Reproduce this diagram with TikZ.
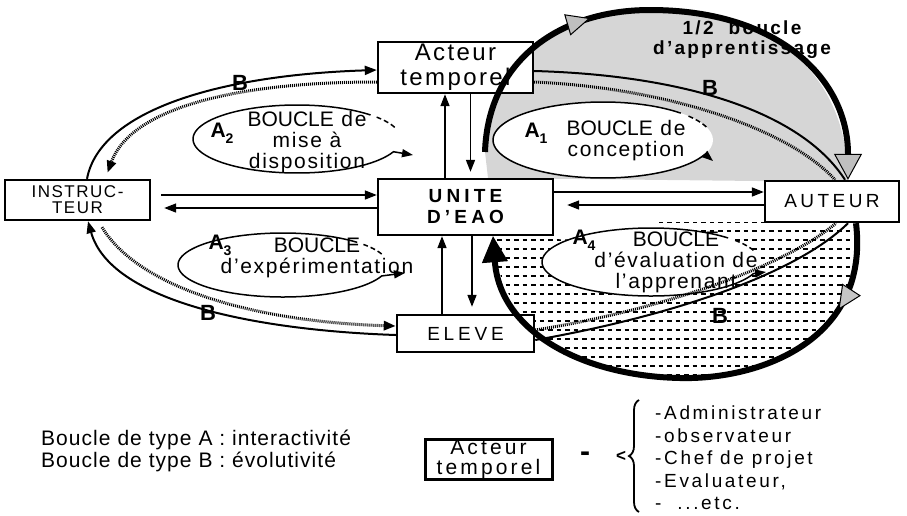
\documentclass[tikz,border=0pt]{standalone}
\usepackage{fontspec}
\setmainfont{Liberation Sans}[LetterSpace=8]
\newfontfamily\tightf{Liberation Sans}
\usetikzlibrary{arrows.meta,decorations.markings,decorations.pathreplacing,calc}
\tikzset{
  box/.style={draw, line width=2.4pt, fill=white, inner sep=0pt, align=center},
  arr/.style={line width=1.6pt, -{Triangle[length=12pt,width=9pt]}},
  bsolid/.style={line width=2pt},
  bhatch/.style={line width=3pt, dash pattern=on 1pt off 1pt},
  btip/.style={-{Triangle[length=12pt,width=9pt]}},
  loopline/.style={line width=1.5pt},
  looptip/.style={-{Triangle[length=11pt,width=8pt]}},
  halfloop/.style={line width=6pt},
  blbl/.style={font=\fontsize{22}{22}\selectfont\bfseries, inner sep=0pt},
  albl/.style={font=\fontsize{21}{21}\selectfont\bfseries, inner sep=0pt},
  etxt/.style={font=\fontsize{21}{21}\selectfont, align=center, inner sep=0pt},
}
\newcommand{\Asub}[1]{A\raisebox{-0.3em}{\fontsize{14}{14}\selectfont #1}}
\begin{document}
\begin{tikzpicture}[x=1pt,y=-1pt]
\useasboundingbox (0,0) rectangle (907,515);

% ---- shaded regions ----
\fill[black!16] (485,152) .. controls (488,60) and (560,10) .. (650,10)
   .. controls (780,10) and (848,80) .. (848,182) -- (488,178) -- cycle;
\begin{scope}
  \clip (856,222) .. controls (870,340) and (760,380) .. (680,378)
     .. controls (580,376) and (500,330) .. (493,238) -- (600,240) -- (660,222) -- cycle;
  \foreach \yy in {222,231,...,384}
    \draw[line width=1.6pt, dash pattern=on 4.5pt off 4pt] (480,\yy) -- (880,\yy);
\end{scope}
\fill[white] (603,140) ellipse [x radius=110, y radius=38];
\fill[white] (651,262) ellipse [x radius=109, y radius=34];

% ---- nodes ----
\node[box, minimum width=155pt, minimum height=51pt, font=\fontsize{24}{25}\selectfont\addfontfeatures{LetterSpace=10}] (act) at (455.5,67.5) {Acteur\\temporel};
\node[box, minimum width=145pt, minimum height=40pt, font=\fontsize{17}{16}\selectfont\addfontfeatures{LetterSpace=9}] (ins) at (77.5,200) {INSTRUC-\\TEUR};
\node[box, minimum width=175pt, minimum height=56pt, font=\fontsize{19}{21}\selectfont\bfseries\addfontfeatures{LetterSpace=22}] (uni) at (465.5,207) {UNITE\\D'EAO};
\node[box, minimum width=134pt, minimum height=41pt, font=\fontsize{19}{20}\selectfont\addfontfeatures{LetterSpace=18}] (aut) at (832,201.5) {AUTEUR};
\node[box, minimum width=137pt, minimum height=37pt, font=\fontsize{19}{20}\selectfont\addfontfeatures{LetterSpace=20}] (elv) at (465.5,333.5) {ELEVE};

% ---- straight arrows ----
\draw[arr] ([xshift=-20.5pt]uni.north) -- ([xshift=-10.5pt]act.south);
\draw[arr, shorten >=6pt] ([xshift=15pt]act.south) -- ([xshift=5pt]uni.north);
\draw[arr] ([xshift=-23.5pt]elv.north) -- ([xshift=-23.5pt]uni.south);
\draw[arr, shorten >=7pt] ([xshift=6.5pt]uni.south) -- ([xshift=6.5pt]elv.north);
\draw[arr, shorten <=10pt] ([yshift=5pt]ins.east) -- ([yshift=5pt]ins.east -| uni.west);
\draw[arr, shorten >=13pt] ([yshift=-8pt]ins.east -| uni.west) -- ([yshift=-8pt]ins.east);
\draw[arr] ([yshift=9.5pt]aut.west -| uni.east) -- ([yshift=9.5pt]aut.west);
\draw[arr, shorten >=13pt] ([yshift=-3.5pt]aut.west) -- ([yshift=-3.5pt]aut.west -| uni.east);

% ---- B loops ----
\draw[bsolid, btip] ([xshift=9.5pt]ins.north) .. controls (100,110) and (220,75) .. ([yshift=-2.5pt]act.west);
\draw[bhatch, btip] ([yshift=-14.5pt]act.west) .. controls (230,82) and (130,110) .. ([xshift=30pt,yshift=6pt]ins.north);
\draw[bsolid, btip] ([yshift=-1.5pt]elv.west) .. controls (250,330) and (110,300) .. ([xshift=10.5pt]ins.south);
\draw[bhatch, btip] ([xshift=24.5pt,yshift=-6pt]ins.south) .. controls (140,290) and (260,322) .. ([yshift=7.5pt]elv.west);
\draw[bsolid] ([yshift=-3.5pt]act.east) .. controls (680,75) and (800,110) .. ([xshift=13pt]aut.north);
\draw[bhatch] ([yshift=-14.5pt]act.east) .. controls (670,88) and (790,130) .. ([xshift=3pt]aut.north);
\draw[bsolid] ([yshift=-6.5pt]elv.east) .. controls (650,320) and (790,280) .. ([xshift=16pt]aut.south);
\draw[bhatch] ([yshift=3.5pt]elv.east) .. controls (650,312) and (780,270) .. ([xshift=4pt]aut.south);
\node[blbl] (b1) at (240,83) {B};
\node[blbl] (b2) at (208,313) {B};
\node[blbl] (b3) at (710,88) {B};
\node[blbl] (b4) at (720,316) {B};

% ---- half loops ----
\draw[halfloop, postaction={decorate},
  decoration={markings, mark=at position 0.34 with {\arrow{Triangle[length=24pt,width=22pt,line width=1pt,fill=gray!50]}}},
  -{Triangle[length=26pt,width=28pt,line width=1pt,fill=gray!50]}]
  (485,152) .. controls (488,60) and (560,10) .. (650,10)
  .. controls (780,10) and (848,80) .. ([xshift=16pt]aut.north);
\draw[halfloop, postaction={decorate},
  decoration={markings, mark=at position 0.17 with {\arrow{Triangle[length=24pt,width=22pt,line width=1pt,fill=gray!45]}}},
  -{Triangle[length=26pt,width=26pt,line width=1pt]}]
  ([xshift=24pt]aut.south) .. controls (870,340) and (760,380) .. (680,378)
  .. controls (580,376) and (500,330) .. ([xshift=27.5pt]uni.south);

% ---- A loops ----
\draw[loopline, looptip] plot[domain=45:338, samples=80, smooth] ({603+110*cos(\x)},{140-38*sin(\x)}) -- (713,161);
\draw[loopline, dash pattern=on 5pt off 3pt] plot[domain=20:40, samples=10, smooth] ({603+110*cos(\x)},{140-38*sin(\x)});
\draw[loopline, looptip] plot[domain=45:338, samples=80, smooth] ({297+104*cos(\x)},{139-34*sin(\x)}) -- (413,155);
\draw[loopline, dash pattern=on 5pt off 3pt] plot[domain=20:40, samples=10, smooth] ({297+104*cos(\x)},{139-34*sin(\x)});
\draw[loopline, looptip] plot[domain=45:340, samples=80, smooth] ({283+105*cos(\x)},{265-32*sin(\x)}) -- (405,273);
\draw[loopline, dash pattern=on 5pt off 3pt] plot[domain=20:40, samples=10, smooth] ({283+105*cos(\x)},{265-32*sin(\x)});
\draw[loopline, looptip] plot[domain=45:340, samples=80, smooth] ({651+109*cos(\x)},{262-34*sin(\x)}) -- (766,272);
\draw[loopline, dash pattern=on 5pt off 3pt] plot[domain=20:40, samples=10, smooth] ({651+109*cos(\x)},{262-34*sin(\x)});

\node[albl] (a1) at (536,133) {\Asub{1}};
\node[albl] (a2) at (222,133) {\Asub{2}};
\node[albl] (a3) at (220,245) {\Asub{3}};
\node[albl] (a4) at (584,240) {\Asub{4}};

\node[etxt] (t1) at (626,141) {{\tightf BOUCLE} de\\conception};
\node[etxt] (t2) at (307,142) {{\tightf BOUCLE} de\\mise à\\disposition};
\node[etxt] (t3) at (317,258) {{\tightf BOUCLE}\\d'expérimentation};
\node[etxt] (t4) at (676,262) {{\tightf BOUCLE}\\d'évaluation de\\l'apprenant};

\node[font=\fontsize{19}{20}\selectfont\bfseries\addfontfeatures{LetterSpace=12}, align=center, inner sep=0pt] (half) at (742,40) {1/2\ \ boucle\\d'apprentissage};

% ---- legend ----
\node[font=\fontsize{21}{22}\selectfont\addfontfeatures{LetterSpace=5}, align=left, anchor=west, inner sep=0pt] (leg) at (41,451) {Boucle de type A : interactivité\\Boucle de type B : évolutivité};
\node[box, line width=3pt, minimum width=127pt, minimum height=40pt, font=\fontsize{21}{20}\selectfont\addfontfeatures{LetterSpace=15}] (lact) at (488.5,459) {Acteur\\temporel};
\node[font=\fontsize{30}{30}\selectfont\bfseries, inner sep=0pt] (eq) at (585,457) {-};
\node[font=\fontsize{17}{17}\selectfont\bfseries, inner sep=0pt] (lt) at (621,456) {<};
\draw[line width=1.8pt, decorate, decoration={brace, amplitude=10pt}] ([xshift=18pt,yshift=-56pt]lt.center) -- ([xshift=18pt,yshift=56pt]lt.center);
\node[font=\fontsize{19}{22.5}\selectfont\addfontfeatures{LetterSpace=14}, align=left, anchor=west, inner sep=0pt] (lst) at (655,458) {-Administrateur\\-observateur\\-Chef de projet\\-Evaluateur,\\-\ \ ...etc.};
\end{tikzpicture}
\end{document}
